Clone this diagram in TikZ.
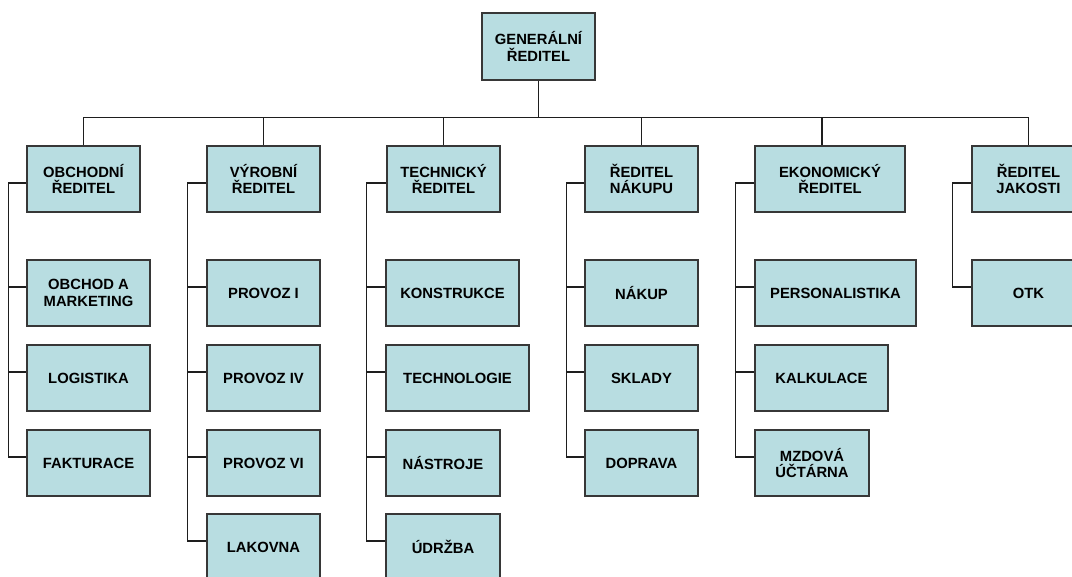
\documentclass[tikz,border=0pt]{standalone}
\usepackage{fontspec}
\setmainfont{Liberation Sans}
\definecolor{boxfill}{RGB}{184,221,225}
\definecolor{edgecol}{RGB}{55,55,55}
\definecolor{linecol}{RGB}{30,30,30}
\begin{document}
\begin{tikzpicture}[x=1pt,y=-1pt,
  box/.style={draw=edgecol, line width=1.3pt, fill=boxfill, minimum height=66pt,
    inner sep=0pt, align=center, font=\fontsize{14.8}{16.8}\selectfont\bfseries},
  link/.style={draw=linecol, line width=1.2pt}]
\useasboundingbox (0,0) rectangle (1072,577);
% top
\node[box, minimum width=113pt, minimum height=67pt] (gen) at (538.5,46.5) {GENERÁLNÍ\\ŘEDITEL};
% level 1
\node[box, minimum width=113pt] (ob) at (83.5,179) {OBCHODNÍ\\ŘEDITEL};
\node[box, minimum width=113pt] (vy) at (263.5,179) {VÝROBNÍ\\ŘEDITEL};
\node[box, minimum width=113pt] (te) at (443.5,179) {TECHNICKÝ\\ŘEDITEL};
\node[box, minimum width=113pt] (na) at (641.5,179) {ŘEDITEL\\NÁKUPU};
\node[box, minimum width=150pt] (ek) at (830,179) {EKONOMICKÝ\\ŘEDITEL};
\node[box, minimum width=113pt] (ja) at (1028.5,179) {ŘEDITEL\\JAKOSTI};
% children
\node[box, minimum width=123pt] (ob1) at (88.5,293) {OBCHOD A\\MARKETING};
\node[box, minimum width=123pt] (ob2) at (88.5,378) {LOGISTIKA};
\node[box, minimum width=123pt] (ob3) at (88.5,463) {FAKTURACE};
\node[box, minimum width=113pt] (vy1) at (263.5,293) {PROVOZ I};
\node[box, minimum width=113pt] (vy2) at (263.5,378) {PROVOZ IV};
\node[box, minimum width=113pt] (vy3) at (263.5,463) {PROVOZ VI};
\node[box, minimum width=113pt] (vy4) at (263.5,547) {LAKOVNA};
\node[box, minimum width=133pt] (te1) at (452.5,293) {KONSTRUKCE};
\node[box, minimum width=143pt] (te2) at (457.5,378) {TECHNOLOGIE};
\node[box, minimum width=114pt] (te3) at (443,463) {NÁSTROJE};
\node[box, minimum width=114pt] (te4) at (443,547) {ÚDRŽBA};
\node[box, minimum width=113pt] (na1) at (641.5,293) {NÁKUP};
\node[box, minimum width=113pt] (na2) at (641.5,378) {SKLADY};
\node[box, minimum width=113pt] (na3) at (641.5,463) {DOPRAVA};
\node[box, minimum width=161pt] (ek1) at (835.5,293) {PERSONALISTIKA};
\node[box, minimum width=133pt] (ek2) at (821.5,378) {KALKULACE};
\node[box, minimum width=114pt] (ek3) at (812,463) {MZDOVÁ\\ÚČTÁRNA};
\node[box, minimum width=113pt] (ja1) at (1028.5,293) {OTK};
% bus
\draw[link] (gen.south) -- ++(0,37) coordinate (bus);
\draw[link] (bus) -| (ob.north);
\draw[link] (bus) -| (vy.north);
\draw[link] (bus) -| (te.north);
\draw[link] (bus) -| (na.north);
\draw[link] (bus) -| ([xshift=-8pt]ek.north);
\draw[link] (bus) -| (ja.north);
% side connectors
\draw[link] ([yshift=-4pt]ob.west) -- ++(-18,0) coordinate (obs);
\foreach \c in {ob1,ob2,ob3} \draw[link] (obs) |- ([yshift=6pt]\c.west);
\draw[link] ([yshift=-4pt]vy.west) -- ++(-19,0) coordinate (vys);
\foreach \c in {vy1,vy2,vy3,vy4} \draw[link] (vys) |- ([yshift=6pt]\c.west);
\draw[link] ([yshift=-4pt]te.west) -- ++(-20,0) coordinate (tes);
\foreach \c in {te1,te2,te3,te4} \draw[link] (tes) |- ([yshift=6pt]\c.west);
\draw[link] ([yshift=-4pt]na.west) -- ++(-18,0) coordinate (nas);
\foreach \c in {na1,na2,na3} \draw[link] (nas) |- ([yshift=6pt]\c.west);
\draw[link] ([yshift=-4pt]ek.west) -- ++(-19,0) coordinate (eks);
\foreach \c in {ek1,ek2,ek3} \draw[link] (eks) |- ([yshift=6pt]\c.west);
\draw[link] ([yshift=-4pt]ja.west) -- ++(-19,0) coordinate (jas);
\draw[link] (jas) |- ([yshift=6pt]ja1.west);
\end{tikzpicture}
\end{document}
